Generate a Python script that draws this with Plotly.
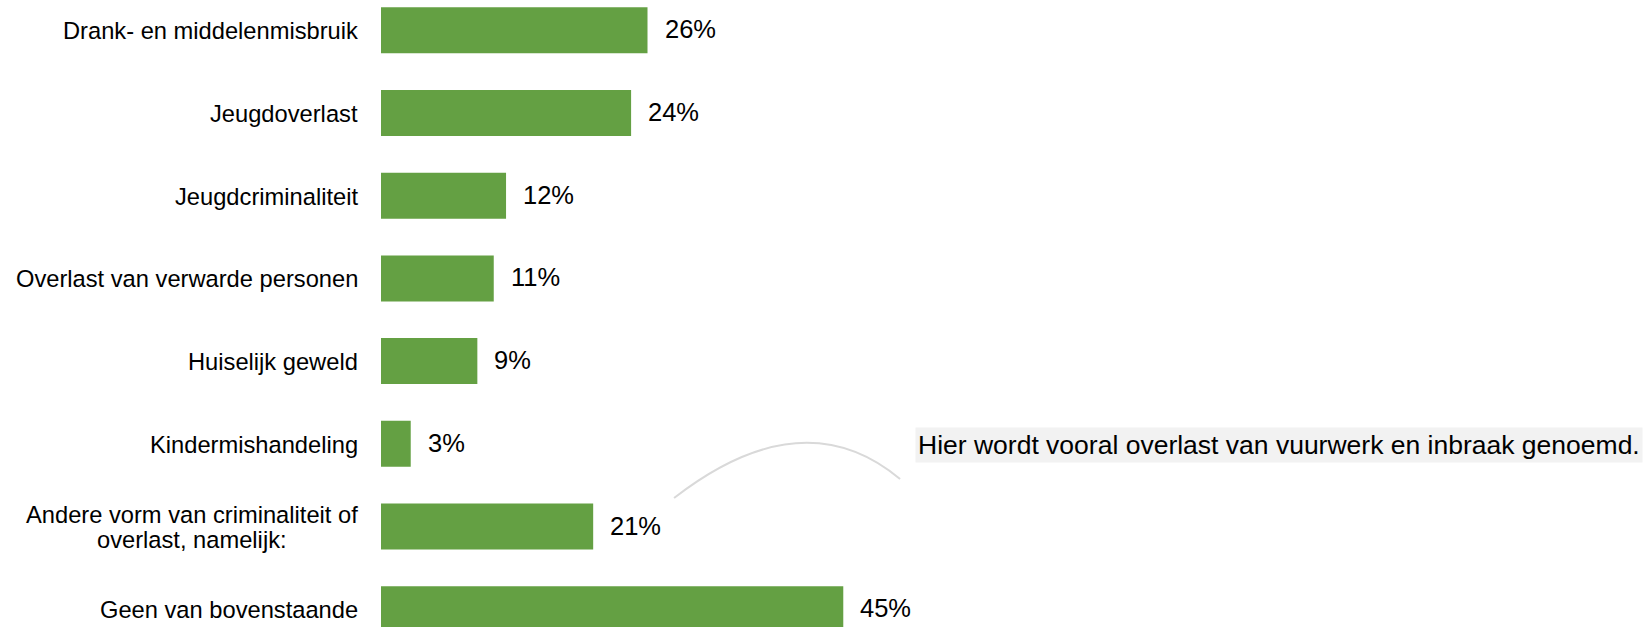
import plotly.graph_objects as go

categories = [
    "Drank- en middelenmisbruik",
    "Jeugdoverlast",
    "Jeugdcriminaliteit",
    "Overlast van verwarde personen",
    "Huiselijk geweld",
    "Kindermishandeling",
    "Andere vorm van criminaliteit of<br>overlast, namelijk:",
    "Geen van bovenstaande",
]
# bar lengths (labels show rounded values)
values = [26.0, 24.4, 12.2, 11.0, 9.4, 2.9, 20.7, 45.1]
value_labels = ["26%", "24%", "12%", "11%", "9%", "3%", "21%", "45%"]
callout_text = "Hier wordt vooral overlast van vuurwerk en inbraak genoemd."

W, H = 1643, 627
L = 381
FONT = "Liberation Sans, Arial, sans-serif"
LABEL_SIZE = 23.7
GREEN = "#64a043"

# approximate Arial/Liberation Sans advance widths (em units) for centring wrapped labels
_W = {c: 0.556 for c in "abdeghnopqu0123456789"}
_W.update({c: 0.5 for c in "cksvxyz"})
_W.update({c: 0.222 for c in "ijl"})
_W.update({"f": 0.278, "t": 0.278, "r": 0.333, "m": 0.833, "w": 0.722,
           " ": 0.278, ",": 0.278, ":": 0.278, ".": 0.278, "-": 0.333,
           "A": 0.667, "O": 0.778, "G": 0.778, "D": 0.722, "H": 0.722,
           "J": 0.5, "K": 0.667})


def text_width(s, size):
    return sum(_W.get(ch, 0.556) for ch in s) * size


fig = go.Figure()
fig.add_trace(go.Bar(
    x=values, y=categories, orientation="h",
    marker=dict(color=GREEN, line=dict(width=0)),
    width=0.556, hoverinfo="skip",
))

annotations = []
for c, v, t in zip(categories, values, value_labels):
    lines = c.split("<br>")
    n = len(lines)
    block_w = max(text_width(s, LABEL_SIZE) for s in lines)
    for i, line in enumerate(lines):
        annotations.append(dict(
            x=0, y=c, xref="x", yref="y", text=line, showarrow=False,
            xanchor="center", yanchor="middle",
            xshift=-23 - block_w / 2,
            yshift=((n - 1) / 2 - i) * 25 - 1,
            font=dict(family=FONT, size=LABEL_SIZE, color="#000000"),
        ))
    annotations.append(dict(
        x=v, y=c, xref="x", yref="y", text=t, showarrow=False,
        xanchor="left", yanchor="middle", xshift=15, yshift=1,
        font=dict(family=FONT, size=25.5, color="#000000"),
    ))


def px(xp):
    return (xp - L) / (W - L)


def py(yp):
    return 1 - yp / H


annotations.append(dict(
    x=1, y=py(444.7), xref="paper", yref="paper", text=callout_text,
    showarrow=False, xanchor="right", yanchor="middle",
    bgcolor="#f2f2f2", borderpad=2,
    font=dict(family=FONT, size=26.5, color="#000000"),
))

arc = "M {:.4f},{:.4f} Q {:.4f},{:.4f} {:.4f},{:.4f}".format(
    px(674), py(498), px(803), py(398), px(900), py(479))

fig.update_layout(
    width=W, height=H,
    margin=dict(l=L, r=0, t=0, b=0),
    paper_bgcolor="white", plot_bgcolor="white",
    showlegend=False,
    xaxis=dict(range=[0, (W - L) / 10.25], visible=False, fixedrange=True),
    yaxis=dict(range=[7.215, -0.366], showticklabels=False, showgrid=False,
               zeroline=False, showline=False, ticks="", fixedrange=True),
    annotations=annotations,
    shapes=[dict(type="path", path=arc, xref="paper", yref="paper",
                 line=dict(color="#d9d9d9", width=2))],
)

fig.write_html(
    "out.html",
    config={"displayModeBar": False},
    post_script="document.body.style.margin='0';document.body.style.overflow='hidden';",
)
